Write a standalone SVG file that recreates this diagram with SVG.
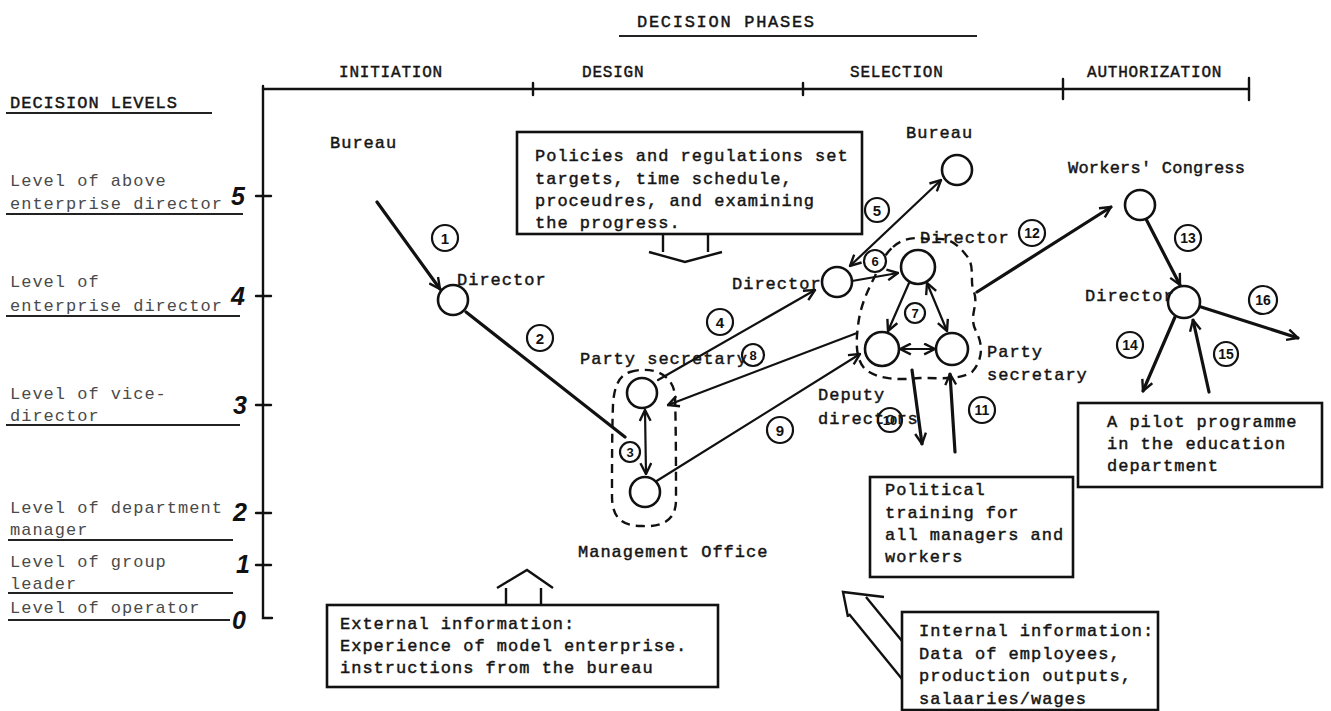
<svg xmlns="http://www.w3.org/2000/svg" width="1331" height="711" viewBox="0 0 1331 711">
  <style>
    .tw { font-family: "Liberation Mono", "DejaVu Sans Mono", monospace; font-size: 17px; letter-spacing: 1px; fill: #151515; stroke: #151515; stroke-width: 0.45px; }
    .hd { font-size: 16px; letter-spacing: 0.8px; }
    .lv { fill: #4a4a4a; stroke: none; }
    .num { font-family: "Liberation Sans", Arial, sans-serif; font-size: 15px; font-weight: bold; fill: #111; text-anchor: middle; dominant-baseline: central; }
    .lvn { font-family: "Liberation Sans", Arial, sans-serif; font-size: 25px; font-weight: bold; font-style: italic; fill: #111; text-anchor: middle; dominant-baseline: central; }
    .ax { stroke: #111; stroke-width: 2.4; fill: none; stroke-linecap: round; }
    .ul { stroke: #222; stroke-width: 2; fill: none; }
    .node { fill: #fff; stroke: #111; stroke-width: 2.6; }
    .ring { fill: #fff; stroke: #111; stroke-width: 2.2; }
    .dash { fill: none; stroke: #111; stroke-width: 2.4; stroke-dasharray: 9 6; }
    .box { fill: #fff; stroke: #111; stroke-width: 2.6; }
    .con { stroke: #111; stroke-width: 2.2; fill: none; stroke-linecap: round; }
    .heavy { stroke-width: 3.2; }
    .hollow { stroke: #111; stroke-width: 2.4; fill: none; stroke-linejoin: miter; }
  </style>
  <defs>
    <marker id="arr" viewBox="0 0 12 12" refX="11" refY="6" markerWidth="13" markerHeight="13" markerUnits="userSpaceOnUse" orient="auto-start-reverse">
      <path d="M1,1 L11,6 L1,11" fill="none" stroke="#111" stroke-width="2.2"/>
    </marker>
  </defs>
  <rect width="1331" height="711" fill="#fff"/>

  <!-- phase axis -->
  <g id="phase-axis">
    <text class="tw" x="637" y="27" textLength="178">DECISION PHASES</text>
    <line class="ul" x1="619" y1="36" x2="977" y2="36"/>
    <text class="tw hd" x="339" y="77">INITIATION</text>
    <text class="tw hd" x="582" y="77">DESIGN</text>
    <text class="tw hd" x="850" y="77">SELECTION</text>
    <text class="tw hd" x="1087" y="77">AUTHORIZATION</text>
    <line class="ax" x1="263" y1="89" x2="1249" y2="89"/>
    <line class="ax" x1="533" y1="83" x2="533" y2="95"/>
    <line class="ax" x1="803" y1="83" x2="803" y2="95"/>
    <line class="ax" x1="1063" y1="79" x2="1063" y2="99"/>
    <line class="ax" x1="1249" y1="78" x2="1249" y2="100"/>
  </g>

  <!-- level axis -->
  <g id="level-axis">
    <text class="tw" x="10" y="108">DECISION LEVELS</text>
    <line class="ul" x1="6" y1="113" x2="212" y2="113"/>
    <polyline class="ax" points="263,86 263,618 272,618"/>
    <line class="ax" x1="256" y1="196" x2="271" y2="196"/>
    <line class="ax" x1="256" y1="296" x2="271" y2="296"/>
    <line class="ax" x1="256" y1="405" x2="271" y2="405"/>
    <line class="ax" x1="256" y1="513" x2="271" y2="513"/>
    <line class="ax" x1="256" y1="565" x2="271" y2="565"/>

    <text class="tw lv" x="10" y="186">Level of above</text>
    <text class="tw lv" x="10" y="209">enterprise director</text>
    <line class="ul" x1="6" y1="214" x2="243" y2="214"/>
    <text class="lvn" x="238" y="196">5</text>

    <text class="tw lv" x="10" y="287">Level of</text>
    <text class="tw lv" x="10" y="311">enterprise director</text>
    <line class="ul" x1="6" y1="316" x2="240" y2="316"/>
    <text class="lvn" x="238" y="296">4</text>

    <text class="tw lv" x="10" y="399">Level of vice-</text>
    <text class="tw lv" x="10" y="421">director</text>
    <line class="ul" x1="6" y1="425" x2="240" y2="425"/>
    <text class="lvn" x="240" y="405">3</text>

    <text class="tw lv" x="10" y="513">Level of department</text>
    <text class="tw lv" x="10" y="535">manager</text>
    <line class="ul" x1="8" y1="540" x2="233" y2="540"/>
    <text class="lvn" x="240" y="512">2</text>

    <text class="tw lv" x="10" y="567">Level of group</text>
    <text class="tw lv" x="10" y="589">leader</text>
    <line class="ul" x1="8" y1="593" x2="233" y2="593"/>
    <text class="lvn" x="243" y="564">1</text>

    <text class="tw lv" x="10" y="613">Level of operator</text>
    <line class="ul" x1="8" y1="620" x2="230" y2="620"/>
    <text class="lvn" x="239" y="620">0</text>
  </g>

  <!-- enclosures -->
  <g id="enclosures">
    <path class="dash" d="M630,372 C650,366 672,372 675,395 C676,430 676,470 676,500 C676,522 660,527 642,526 C622,526 612,518 612,496 C612,466 612,430 613,405 C614,385 620,375 630,372 Z"/>
    <path class="dash" d="M893,247 C902,238 918,236 932,240 C946,236 957,243 966,255 C976,266 969,281 974,292 C979,306 968,316 976,331 C984,346 982,361 972,372 C960,380 940,378 920,378 C900,380 880,380 866,370 C855,360 856,341 858,326 C860,306 868,290 875,276 C880,263 886,253 893,247 Z"/>
  </g>

  <!-- connectors -->
  <g id="connectors">
    <line class="con heavy" x1="377" y1="202" x2="440" y2="289" marker-end="url(#arr)"/>
    <line class="con heavy" x1="466" y1="312" x2="625" y2="437"/>
    <line class="con" x1="645" y1="410" x2="646" y2="474" marker-start="url(#arr)" marker-end="url(#arr)"/>
    <line class="con" x1="658" y1="380" x2="815" y2="290" marker-end="url(#arr)"/>
    <line class="con" x1="850" y1="266" x2="941" y2="180" marker-start="url(#arr)" marker-end="url(#arr)"/>
    <line class="con" x1="852" y1="281" x2="898" y2="273" marker-end="url(#arr)"/>
    <line class="con" x1="909" y1="283" x2="888" y2="331" marker-end="url(#arr)"/>
    <line class="con" x1="927" y1="283" x2="947" y2="331" marker-start="url(#arr)" marker-end="url(#arr)"/>
    <line class="con" x1="900" y1="349" x2="935" y2="349" marker-start="url(#arr)" marker-end="url(#arr)"/>
    <line class="con" x1="857" y1="333" x2="668" y2="405" marker-end="url(#arr)"/>
    <line class="con" x1="655" y1="482" x2="860" y2="354" marker-end="url(#arr)"/>
    <line class="con heavy" x1="912" y1="370" x2="922" y2="444" marker-end="url(#arr)"/>
    <line class="con heavy" x1="955" y1="452" x2="950" y2="374" marker-end="url(#arr)"/>
    <line class="con heavy" x1="977" y1="292" x2="1111" y2="207" marker-end="url(#arr)"/>
    <line class="con heavy" x1="1146" y1="219" x2="1180" y2="285" marker-end="url(#arr)"/>
    <line class="con heavy" x1="1175" y1="317" x2="1143" y2="391" marker-end="url(#arr)"/>
    <line class="con heavy" x1="1209" y1="392" x2="1193" y2="320" marker-end="url(#arr)"/>
    <line class="con heavy" x1="1198" y1="306" x2="1298" y2="338" marker-end="url(#arr)"/>
    <!-- numbered steps -->
    <g id="step-labels">
      <circle class="ring" cx="445" cy="238" r="13"/><text class="num" x="445" y="238">1</text>
      <circle class="ring" cx="540" cy="338" r="13"/><text class="num" x="540" y="338">2</text>
      <circle class="ring" cx="630" cy="452" r="10"/><text class="num" x="630" y="452" style="font-size:13px">3</text>
      <circle class="ring" cx="720" cy="322" r="13"/><text class="num" x="720" y="322">4</text>
      <circle class="ring" cx="877" cy="210" r="12"/><text class="num" x="877" y="210">5</text>
      <circle class="ring" cx="875" cy="261" r="11"/><text class="num" x="875" y="261" style="font-size:13px">6</text>
      <circle class="ring" cx="915" cy="313" r="10"/><text class="num" x="915" y="313" style="font-size:13px">7</text>
      <circle class="ring" cx="753" cy="355" r="11"/><text class="num" x="753" y="355" style="font-size:13px">8</text>
      <circle class="ring" cx="780" cy="430" r="13"/><text class="num" x="780" y="430">9</text>
      <circle class="ring" cx="890" cy="420" r="12"/><text class="num" x="890" y="420" style="font-size:13px">10</text>
      <circle class="ring" cx="982" cy="410" r="13"/><text class="num" x="982" y="410" style="font-size:14px">11</text>
      <circle class="ring" cx="1032" cy="233" r="13"/><text class="num" x="1032" y="233" style="font-size:14px">12</text>
      <circle class="ring" cx="1188" cy="238" r="13"/><text class="num" x="1188" y="238" style="font-size:14px">13</text>
      <circle class="ring" cx="1130" cy="345" r="13"/><text class="num" x="1130" y="345" style="font-size:14px">14</text>
      <circle class="ring" cx="1226" cy="354" r="12"/><text class="num" x="1226" y="354" style="font-size:14px">15</text>
      <circle class="ring" cx="1263" cy="300" r="14"/><text class="num" x="1263" y="300" style="font-size:14px">16</text>
    </g>
  </g>

  <!-- actors -->
  <g id="bureau-initiation">
    <text class="tw" x="330" y="148">Bureau</text>
  </g>
  <g id="director-initiation">
    <circle class="node" cx="453" cy="300" r="15"/>
    <text class="tw" x="457" y="285">Director</text>
  </g>
  <g id="party-secretary-design">
    <circle class="node" cx="642" cy="393" r="15"/>
    <text class="tw" x="580" y="364">Party secretary</text>
  </g>
  <g id="management-office">
    <circle class="node" cx="645" cy="492" r="15"/>
    <text class="tw" x="578" y="557">Management Office</text>
  </g>
  <g id="director-selection">
    <circle class="node" cx="837" cy="282" r="15"/>
    <text class="tw" x="732" y="289">Director</text>
  </g>
  <g id="bureau-selection">
    <circle class="node" cx="957" cy="170" r="15"/>
    <text class="tw" x="906" y="138">Bureau</text>
  </g>
  <g id="director-group">
    <circle class="node" cx="918" cy="267" r="17"/>
    <text class="tw" x="920" y="243">Director</text>
  </g>
  <g id="deputy-directors">
    <circle class="node" cx="882" cy="349" r="17"/>
    <text class="tw" x="818" y="400">Deputy</text>
    <text class="tw" x="818" y="424">directors</text>
  </g>
  <g id="party-secretary-selection">
    <circle class="node" cx="952" cy="349" r="16"/>
    <text class="tw" x="987" y="357">Party</text>
    <text class="tw" x="987" y="380">secretary</text>
  </g>
  <g id="workers-congress">
    <circle class="node" cx="1140" cy="205" r="15"/>
    <text class="tw" x="1068" y="173" textLength="178">Workers' Congress</text>
  </g>
  <g id="director-authorization">
    <circle class="node" cx="1184" cy="302" r="16"/>
    <text class="tw" x="1085" y="301">Director</text>
  </g>

  <!-- information boxes -->
  <g id="policies-box">
    <rect class="box" x="517" y="132" width="345" height="102"/>
    <text class="tw" x="535" y="161">Policies and regulations set</text>
    <text class="tw" x="535" y="184">targets, time schedule,</text>
    <text class="tw" x="535" y="206">proceudres, and examining</text>
    <text class="tw" x="535" y="228">the progress.</text>
    <path class="hollow" d="M663,234 V252 M708,234 V252 M649,252 L685,262 L722,252"/>
  </g>
  <g id="external-information">
    <path class="hollow" d="M506,605 V588 M541,605 V588 M497,588 L527,570 L553,588"/>
    <rect class="box" x="327" y="605" width="391" height="82"/>
    <text class="tw" x="340" y="629">External information:</text>
    <text class="tw" x="340" y="651">Experience of model enterprise.</text>
    <text class="tw" x="340" y="673">instructions from the bureau</text>
  </g>
  <g id="political-training">
    <rect class="box" x="870" y="477" width="203" height="100"/>
    <text class="tw" x="885" y="495">Political</text>
    <text class="tw" x="885" y="518">training for</text>
    <text class="tw" x="885" y="540">all managers and</text>
    <text class="tw" x="885" y="562">workers</text>
  </g>
  <g id="pilot-programme">
    <rect class="box" x="1078" y="403" width="244" height="84"/>
    <text class="tw" x="1107" y="427">A pilot programme</text>
    <text class="tw" x="1107" y="449">in the education</text>
    <text class="tw" x="1107" y="471">department</text>
  </g>
  <g id="internal-information">
    <path class="hollow" d="M884,597 L843,592 L848,617 M866,597 L902,641 M849,614 L902,679"/>
    <rect class="box" x="902" y="612" width="256" height="98"/>
    <text class="tw" x="919" y="636">Internal information:</text>
    <text class="tw" x="919" y="659">Data of employees,</text>
    <text class="tw" x="919" y="681">production outputs,</text>
    <text class="tw" x="919" y="704">salaaries/wages</text>
  </g>
</svg>
